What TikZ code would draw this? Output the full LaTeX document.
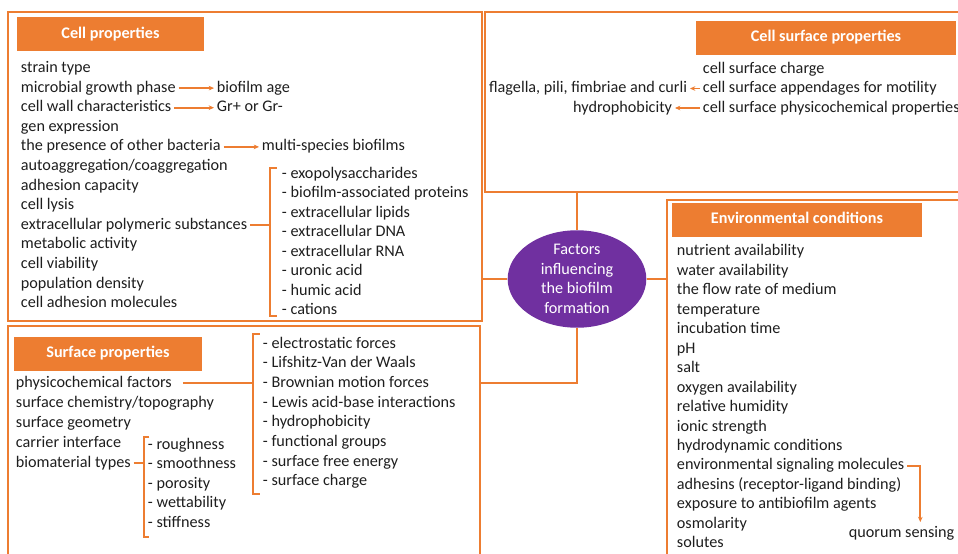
\documentclass[tikz,border=0pt]{standalone}
\usepackage{fontspec}
\setmainfont{Carlito}
\usetikzlibrary{shapes.geometric,arrows.meta,positioning,fit}
\definecolor{bfOrange}{HTML}{ED7D31}
\definecolor{bfPurple}{HTML}{7030A0}
\definecolor{bfText}{HTML}{1E1E1E}

\begin{document}
\begin{tikzpicture}[
    x=0.75pt, y=-0.75pt,
    every node/.style={font=\fontsize{12.15}{14.6}\selectfont, text=bfText},
    item/.style={anchor=west, inner xsep=2pt, inner ysep=0pt,
                 text height=9pt, text depth=3pt},
    itemr/.style={item, anchor=east},
    head/.style={fill=bfOrange, inner sep=0pt, text=white, minimum height=25.5pt,
                 text height=9pt, text depth=3pt,
                 font=\fontsize{12.15}{14.6}\selectfont\bfseries},
    panel/.style={draw=bfOrange, line width=1.3pt, inner sep=0pt},
    link/.style={bfOrange, line width=1.3pt},
    brk/.style={bfOrange, line width=1.3pt},
    arr/.style={-{Stealth[length=4pt,width=3.5pt]}, bfOrange, line width=1.3pt},
  ]
  \useasboundingbox (0,0) rectangle (958,554);
  \clip (0,0) rectangle (958,554);

  % panels
  \node[panel, fit={(8,12) (482,321)}] (cp) {};
  \node[panel, fit={(485,12) (968,192)}] (cs) {};
  \node[panel, fit={(667,200) (968,564)}] (env) {};
  \node[panel, fit={(8,326) (480,564)}] (sp) {};

  \node[head, minimum width=140.25pt] (cph) at (110.5,34) {Cell properties};
  \node[head, minimum width=195pt] (csh) at (826,37.5) {Cell surface properties};
  \node[head, minimum width=187.5pt] (envh) at (797,219.5) {Environmental conditions};
  \node[head, minimum width=141pt] (sph) at (108,353.5) {Surface properties};

  % cell properties
  \node[item] (strain) at (18,68.5) {strain type};
  \node[item] (growth) at (18,88.1) {microbial growth phase};
  \node[item] (wall) at (18,107.7) {cell wall characteristics};
  \node[item] (gen) at (18,127.3) {gen expression};
  \node[item] (presence) at (18,146.9) {the presence of other bacteria};
  \node[item] (autoagg) at (18,166.5) {autoaggregation/coaggregation};
  \node[item] (adhesion) at (18,186.1) {adhesion capacity};
  \node[item] (lysis) at (18,205.7) {cell lysis};
  \node[item] (eps) at (18,225) {extracellular polymeric substances};
  \node[item] (metab) at (18,244.9) {metabolic activity};
  \node[item] (viab) at (18,264.5) {cell viability};
  \node[item] (popd) at (18,284.1) {population density};
  \node[item] (cam) at (18,303.7) {cell adhesion molecules};

  \node[item] (age) at (214,88.1) {biofilm age};
  \node[item] (gram) at (214,107.7) {Gr+ or Gr-};
  \node[item] (multi) at (259,146.9) {multi-species biofilms};

  \node[item] (e1) at (279,174) {- exopolysaccharides};
  \node[item] (e2) at (279,193.5) {- biofilm-associated proteins};
  \node[item] (e3) at (279,213.1) {- extracellular lipids};
  \node[item] (e4) at (279,232.6) {- extracellular DNA};
  \node[item] (e5) at (279,252.1) {- extracellular RNA};
  \node[item] (e6) at (279,271.7) {- uronic acid};
  \node[item] (e7) at (279,291.2) {- humic acid};
  \node[item] (e8) at (279,310.7) {- cations};
  \coordinate (b1t) at (270,168);
  \coordinate (b1b) at (270,316);

  \draw[arr] (growth) -- (age);
  \draw[arr] (wall) -- (gram);
  \draw[arr] (presence) -- (multi);
  \draw[brk] (eps.east) -- (eps.east -| b1t);
  \draw[brk] ([xshift=5pt]b1t) -- (b1t) -- (b1b) -- ([xshift=5pt]b1b);

  % cell surface properties
  \node[item] (charge) at (700,69) {cell surface charge};
  \node[item] (append) at (700,88.5) {cell surface appendages for motility};
  \node[item] (physcs) at (700,108) {cell surface physicochemical properties};
  \node[itemr] (flag) at (690,88.5) {flagella, pili, fimbriae and curli};
  \node[itemr] (hydro) at (675,108) {hydrophobicity};
  \draw[arr] (append) -- (flag);
  \draw[arr] (physcs) -- (hydro);

  % environmental conditions
  \node[item] (n1) at (674,251.7) {nutrient availability};
  \node[item] (n2) at (674,271.2) {water availability};
  \node[item] (n3) at (674,290.6) {the flow rate of medium};
  \node[item] (n4) at (674,310.1) {temperature};
  \node[item] (n5) at (674,329.6) {incubation time};
  \node[item] (n6) at (674,349.1) {pH};
  \node[item] (n7) at (674,368.5) {salt};
  \node[item] (n8) at (674,388) {oxygen availability};
  \node[item] (n9) at (674,407.5) {relative humidity};
  \node[item] (n10) at (674,427) {ionic strength};
  \node[item] (n11) at (674,446.4) {hydrodynamic conditions};
  \node[item] (n12) at (674,465.9) {environmental signaling molecules};
  \node[item] (n13) at (674,485.4) {adhesins (receptor-ligand binding)};
  \node[item] (n14) at (674,504.8) {exposure to antibiofilm agents};
  \node[item] (n15) at (674,524.3) {osmolarity};
  \node[item] (n16) at (674,543.8) {solutes};
  \node[item] (quorum) at (846,533) {quorum sensing};
  \draw[arr, shorten >=2pt] (n12.east) -| ([xshift=14pt]quorum.north);

  % surface properties
  \node[item] (phys) at (13,383) {physicochemical factors};
  \node[item] (chem) at (13,403.4) {surface chemistry/topography};
  \node[item] (geom) at (13,423.3) {surface geometry};
  \node[item] (carrier) at (13,443.2) {carrier interface};
  \node[item] (biomat) at (13,463.1) {biomaterial types};

  \node[item] (f1) at (260,344) {- electrostatic forces};
  \node[item] (f2) at (260,363.7) {- Lifshitz-Van der Waals};
  \node[item] (f3) at (260,383.3) {- Brownian motion forces};
  \node[item] (f4) at (260,403) {- Lewis acid-base interactions};
  \node[item] (f5) at (260,422.7) {- hydrophobicity};
  \node[item] (f6) at (260,442.4) {- functional groups};
  \node[item] (f7) at (260,462) {- surface free energy};
  \node[item] (f8) at (260,481.7) {- surface charge};
  \coordinate (b2t) at (253,334);
  \coordinate (b2b) at (253,494);

  \node[item] (m1) at (145,445) {- roughness};
  \node[item] (m2) at (145,464.5) {- smoothness};
  \node[item] (m3) at (145,484) {- porosity};
  \node[item] (m4) at (145,503.5) {- wettability};
  \node[item] (m5) at (145,523) {- stiffness};
  \coordinate (b3t) at (144,437);
  \coordinate (b3b) at (144,537);

  \draw[brk] ([xshift=6pt]phys.east) -- (phys.east -| b2t);
  \draw[brk] ([xshift=5pt]b2t) -- (b2t) -- (b2b) -- ([xshift=5pt]b2b);
  \draw[brk] (biomat.east) -- (biomat.east -| b3t);
  \draw[brk] ([xshift=4pt]b3t) -- (b3t) -- (b3b) -- ([xshift=4pt]b3b);

  % centre
  \node[ellipse, fill=bfPurple, minimum width=104pt, minimum height=63pt,
        inner sep=0pt, align=center, text=white] (fac) at (577,279)
    {Factors\\influencing\\the biofilm\\formation};
  \draw[link] (fac.west) -- (fac.west -| cp.east);
  \draw[link] (fac.north) -- (fac.north |- cs.south);
  \draw[link] (fac.east) -- (fac.east -| env.west);
  \draw[link] (fac.south) |- (phys -| sp.east);
\end{tikzpicture}
\end{document}
